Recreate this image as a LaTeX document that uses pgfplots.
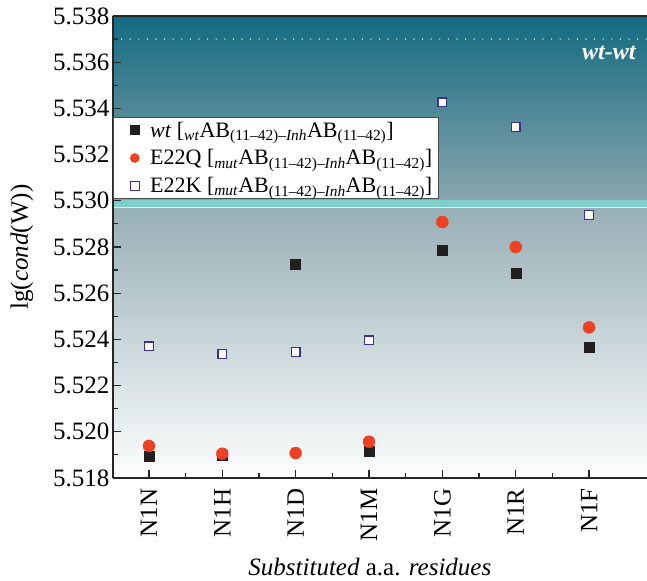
\documentclass[border=0pt]{standalone}
\usepackage{fontspec}
\setmainfont{Liberation Serif}
\usepackage{pgfplots}
\pgfplotsset{compat=1.18}
\definecolor{bgtop}{HTML}{126A80}
\definecolor{bgmid1}{HTML}{8AA6AE}
\definecolor{bgmid2}{HTML}{97AFB6}
\definecolor{bgmid3}{HTML}{DDE5E8}
\definecolor{bgbot}{HTML}{FDFEFE}
\definecolor{band}{HTML}{7ECFCC}
\definecolor{wtcol}{HTML}{231F20}
\definecolor{qcol}{HTML}{EE4123}
\definecolor{kcol}{HTML}{3B2F96}
\newcommand{\bigf}{\fontsize{25}{30}\selectfont}
\newcommand{\legf}{\fontsize{22}{26}\selectfont}
\begin{document}
\begin{tikzpicture}
\begin{axis}[
  name=ax,
  scale only axis, width=534pt, height=462pt,
  xmin=-0.49, xmax=6.79, ymin=5.518, ymax=5.538,
  axis x line=box, axis y line=left,
  axis line style={-, line width=1.4pt, color=black!85},
  xtick={0,1,2,3,4,5,6},
  xticklabels={N1N,N1H,N1D,N1M,N1G,N1R,N1F},
  minor x tick num=1,
  ytick={5.518,5.520,5.522,5.524,5.526,5.528,5.530,5.532,5.534,5.536,5.538},
  minor y tick num=1,
  xtick pos=left, ytick pos=left,
  tick align=inside,
  major tick length=8pt, minor tick length=5pt,
  every tick/.style={line width=1.2pt, black!85},
  scaled y ticks=false,
  /pgf/number format/assume math mode=true,
  yticklabel style={/pgf/number format/.cd, fixed, fixed zerofill, precision=3, /tikz/.cd, font=\bigf},
  xticklabel style={rotate=90, anchor=east, font=\bigf},
  xticklabel shift=7pt,
  xlabel={\textit{Substituted} a.a. \textit{residues}},
  ylabel={lg(\textit{cond}(W))},
  label style={font=\bigf},
  xlabel style={at={(axis description cs:0.481,0)}, anchor=center, yshift=-89pt},
  ylabel style={at={(axis description cs:-0.1704,0.5)}, anchor=center},
  axis on top,
  legend style={at={(0,0.7814)}, anchor=north west, draw=black!70, line width=0.8pt, fill=white, font=\legf, inner xsep=4pt, inner ysep=2.5pt, row sep=7pt,
    /tikz/every odd column/.style={column sep=3pt}},
  legend cell align=left,
  legend image code/.code={\path (0pt,0pt) (27pt,0pt); \draw[#1, mark size=4.4pt] plot coordinates {(17pt,0pt)};},
]
% background gradient
\fill[top color=bgtop, bottom color=bgmid1, draw=none] (axis cs:-0.49,5.538) rectangle (axis cs:6.79,5.5300);
\fill[top color=bgmid2, middle color=bgmid3, bottom color=bgbot, draw=none] (axis cs:-0.49,5.5297) rectangle (axis cs:6.79,5.518);
% band
\addplot[draw=none, fill=band, forget plot] coordinates {(-0.49,5.5297) (6.79,5.5297) (6.79,5.53005) (-0.49,5.53005)} -- cycle;
\addplot[white!70!band, line width=0.8pt, forget plot] coordinates {(-0.49,5.5297) (6.79,5.5297)};
% wt-wt dotted line
\addplot[white, line width=1.4pt, line cap=round, dash pattern=on 0pt off 8.6pt, forget plot] coordinates {(-0.49,5.537) (6.79,5.537)};
\node[white, font=\bfseries\itshape\fontsize{24}{28}\selectfont] at (axis cs:6.27,5.5364) {wt-wt};
% data
\addplot[only marks, mark=square*, mark size=5pt, mark options={fill=wtcol, draw=wtcol}] coordinates {
(0,5.51895) (1,5.5190) (2,5.52726) (3,5.51917) (4,5.52787) (5,5.52687) (6,5.52368)};
\addlegendentry{\textit{wt} [\textsubscript{\textit{wt}}AB\textsubscript{(11–42)–\textit{Inh}}AB\textsubscript{(11–42)}]}
\addplot[only marks, mark=*, mark size=6pt, mark options={fill=qcol, draw=qcol}] coordinates {
(0,5.51939) (1,5.51905) (2,5.51908) (3,5.51957) (4,5.52908) (5,5.5280) (6,5.52452)};
\addlegendentry{E22Q [\textsubscript{\textit{mut}}AB\textsubscript{(11–42)–\textit{Inh}}AB\textsubscript{(11–42)}]}
\addplot[only marks, mark=square*, mark size=4.4pt, mark options={fill=white, draw=kcol, line width=1.3pt}] coordinates {
(0,5.5237) (1,5.52337) (2,5.52345) (3,5.52396) (4,5.53426) (5,5.5332) (6,5.52939)};
\addlegendentry{E22K [\textsubscript{\textit{mut}}AB\textsubscript{(11–42)–\textit{Inh}}AB\textsubscript{(11–42)}]}
\end{axis}
\pgfresetboundingbox
\path ([shift={(-113pt,-103pt)}]ax.south west) rectangle ([shift={(0pt,16pt)}]ax.north east);
\end{tikzpicture}
\end{document}
